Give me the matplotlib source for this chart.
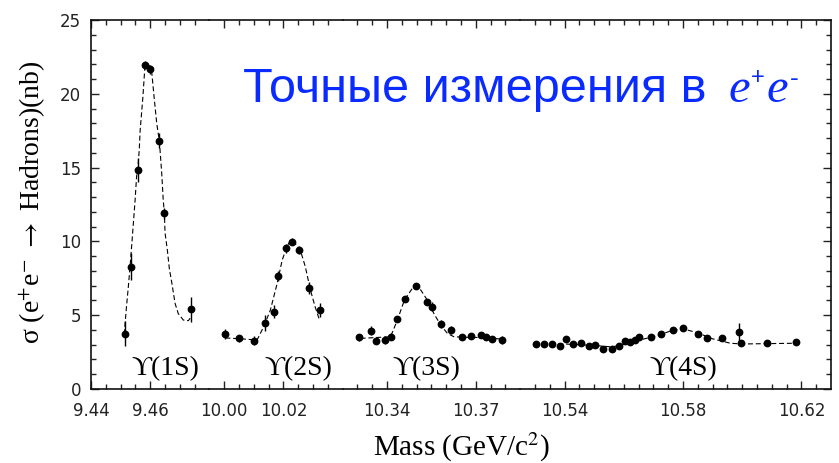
import numpy as np
import matplotlib
matplotlib.use("Agg")
import matplotlib.pyplot as plt
from matplotlib.ticker import FixedLocator, MultipleLocator

plt.rcParams['mathtext.fontset'] = 'stix'
plt.rcParams['font.serif'] = ['Liberation Serif', 'DejaVu Serif']

# ---------------- data ----------------
seg_limits = [(9.44, 9.48), (9.995, 10.04), (10.325, 10.385), (10.525, 10.63)]
major_ticks = [[9.44, 9.46], [10.00, 10.02], [10.34, 10.37], [10.54, 10.58, 10.62]]
peak_labels = ["ϒ(1S)", "ϒ(2S)", "ϒ(3S)", "ϒ(4S)"]
peak_label_mass = [9.465, 10.025, 10.3534, 10.580]

# Upsilon(1S)
m1 = [9.4515, 9.4534, 9.4558, 9.4583, 9.4599, 9.4631, 9.4647, 9.4737]
s1 = [3.73, 8.29, 14.84, 21.95, 21.66, 16.82, 11.90, 5.40]
e1 = [0.85, 0.9, 0.8, 0.3, 0.3, 0.5, 0.35, 0.85]
fit_m1 = [9.4512, 9.4520, 9.4526, 9.4532, 9.4537, 9.4543, 9.4549, 9.4554, 9.4558,
          9.4563, 9.4566, 9.4575, 9.4582, 9.4588, 9.4597, 9.4605, 9.4614, 9.4622,
          9.4631, 9.4639, 9.4644, 9.4648, 9.4650, 9.4658, 9.4665, 9.4673, 9.4684,
          9.4695, 9.4712, 9.4729, 9.4735]
fit_s1 = [3.7, 5.6, 6.9, 8.3, 9.6, 11.2, 12.8, 14.4, 14.9,
          16.2, 17.5, 19.7, 21.8, 22.0, 21.9, 21.5, 19.6, 18.0,
          16.8, 14.6, 12.8, 11.9, 10.6, 9.4, 8.1, 7.2, 5.8,
          5.1, 4.67, 4.63, 4.8]

# Upsilon(2S)
m2 = [10.0004, 10.0051, 10.0100, 10.0137, 10.0167, 10.0181, 10.0210, 10.0229,
      10.0254, 10.0285, 10.0323]
s2 = [3.73, 3.43, 3.28, 4.45, 5.24, 7.66, 9.53, 9.98, 9.42, 6.82, 5.35]
e2 = [0.35, 0.25, 0.3, 0.55, 0.45, 0.35, 0.3, 0.25, 0.3, 0.4, 0.45]
fit_m2 = [10.0004, 10.0055, 10.0111, 10.0133, 10.0156, 10.0179, 10.0196, 10.0212,
          10.0224, 10.0235, 10.0257, 10.0274, 10.0291, 10.0307, 10.0322]
fit_s2 = [3.46, 3.4, 3.32, 4.2, 5.35, 7.16, 8.74, 9.65, 10.09, 9.98, 9.42, 8.29,
          6.73, 5.58, 4.67]

# Upsilon(3S)
m3 = [10.3307, 10.3345, 10.3364, 10.3393, 10.3412, 10.3435, 10.3461, 10.3497,
      10.3536, 10.3553, 10.3584, 10.3617, 10.3655, 10.3685, 10.3716, 10.3733,
      10.3756, 10.3790]
s3 = [3.50, 3.95, 3.27, 3.32, 3.54, 4.74, 6.10, 6.98, 5.91, 5.58, 4.40, 4.00,
      3.50, 3.61, 3.66, 3.54, 3.39, 3.32]
e3 = [0.25, 0.3, 0.25, 0.25, 0.25, 0.2, 0.2, 0.2, 0.2, 0.3, 0.3, 0.3, 0.2, 0.2,
      0.2, 0.2, 0.2, 0.25]
fit_m3 = [10.3311, 10.3412, 10.3435, 10.3459, 10.3491, 10.3514, 10.3536, 10.3558,
          10.3581, 10.3604, 10.3626, 10.3671, 10.3739, 10.3789]
fit_s3 = [3.43, 3.54, 4.67, 6.03, 6.98, 6.71, 6.03, 5.13, 4.34, 3.77, 3.54, 3.50,
          3.48, 3.37]

# Upsilon(4S)
m4 = [10.5304, 10.5332, 10.5357, 10.5385, 10.5405, 10.5430, 10.5455, 10.5481,
      10.5503, 10.5529, 10.5560, 10.5585, 10.5605, 10.5622, 10.5639, 10.5650,
      10.5692, 10.5726, 10.5766, 10.5800, 10.5850, 10.5880, 10.5933, 10.5990,
      10.5995, 10.6085, 10.6181]
s4 = [3.03, 3.03, 3.05, 2.93, 3.37, 3.05, 3.14, 2.91, 2.98, 2.69, 2.71, 2.91,
      3.27, 3.20, 3.32, 3.54, 3.54, 3.73, 4.00, 4.11, 3.73, 3.43, 3.43, 3.88,
      3.10, 3.10, 3.20]
e4 = [0.12, 0.12, 0.12, 0.12, 0.2, 0.15, 0.12, 0.12, 0.15, 0.2, 0.2, 0.15,
      0.15, 0.15, 0.15, 0.2, 0.2, 0.2, 0.15, 0.15, 0.15, 0.15, 0.15, 0.6,
      0.15, 0.15, 0.15]
fit_m4 = [10.5300, 10.5400, 10.5500, 10.5560, 10.5620, 10.5660, 10.5720, 10.5760,
          10.5800, 10.5850, 10.5900, 10.5960, 10.6000, 10.6180]
fit_s4 = [3.0, 3.05, 2.95, 2.85, 3.1, 3.35, 3.65, 3.95, 4.08, 3.8, 3.4, 3.1,
          3.05, 3.1]

seg_m = [m1, m2, m3, m4]
seg_s = [s1, s2, s3, s4]
seg_e = [e1, e2, e3, e4]
seg_fm = [fit_m1, fit_m2, fit_m3, fit_m4]
seg_fs = [fit_s1, fit_s2, fit_s3, fit_s4]

# ---------------- figure ----------------
W, H = 839, 463
fig = plt.figure(figsize=(W / 100, H / 100), dpi=100)
widths = [hi - lo for lo, hi in seg_limits]
gs = fig.add_gridspec(1, 4, width_ratios=widths, wspace=0,
                      left=91 / W, right=831 / W, bottom=74 / H, top=443 / H)

tick_font = dict(family='DejaVu Sans', size=12)
for i, (lo, hi) in enumerate(seg_limits):
    ax = fig.add_subplot(gs[0, i])
    ax.errorbar(seg_m[i], seg_s[i], yerr=seg_e[i], fmt='o', ms=4.6,
                color='black', ecolor='black', elinewidth=1.0, capsize=0, zorder=3)
    ax.plot(seg_fm[i], seg_fs[i], color='black', lw=0.8,
            ls=(0, (4.5, 2.5)), zorder=2)
    ax.text(peak_label_mass[i], 0.95, peak_labels[i], ha='center', va='baseline',
            family=['Liberation Serif', 'DejaVu Serif'], fontsize=20)
    ax.set_xlim(lo, hi)
    ax.set_ylim(0, 25)
    ax.xaxis.set_major_locator(FixedLocator(major_ticks[i]))
    minor = [t for t in np.arange(lo, hi + 1e-9, 0.005)
             if abs(t - lo) > 1e-6 and abs(t - hi) > 1e-6
             and all(abs(t - mt) > 1e-6 for mt in major_ticks[i])]
    ax.xaxis.set_minor_locator(FixedLocator(minor))
    ax.set_xticklabels(["%.2f" % t for t in major_ticks[i]], **tick_font, color='#222222')
    ax.yaxis.set_major_locator(MultipleLocator(5))
    ax.yaxis.set_minor_locator(MultipleLocator(1))
    ax.tick_params(axis='x', which='both', direction='in', top=True, bottom=True,
                   pad=9, width=1.0, color='#222222')
    ax.tick_params(axis='x', which='major', length=6)
    ax.tick_params(axis='x', which='minor', length=3.5)
    ax.tick_params(axis='y', which='both', direction='in', left=(i == 0),
                   right=(i == 3), labelleft=(i == 0), labelright=False,
                   pad=7, width=1.0, color='#222222')
    ax.tick_params(axis='y', which='major', length=6)
    ax.tick_params(axis='y', which='minor', length=3.5)
    if i == 0:
        for lab in ax.get_yticklabels():
            lab.set_fontfamily('DejaVu Sans')
            lab.set_fontsize(12)
            lab.set_color('#222222')
    for side in ['top', 'bottom', 'left', 'right']:
        ax.spines[side].set_linewidth(1.2)
        ax.spines[side].set_color('#111111')
    ax.spines['left'].set_visible(i == 0)
    ax.spines['right'].set_visible(i == 3)
    ax.patch.set_alpha(0)

fig.text(461 / W, (H - 456) / H, r'Mass (GeV/c$^{2}$)', ha='center', va='baseline',
         family='serif', fontsize=21)
fig.text(33 / W, (H - 202) / H, r'σ (e$^{+}$e$^{-}$ $\rightarrow$ Hadrons)(nb)',
         rotation=90, ha='center', va='center', family='serif', fontsize=20)

title_color = '#0a2bff'
base_y = (H - 102) / H
fig.text(243 / W, base_y, 'Точные измерения в', ha='left', va='baseline',
         family='Liberation Sans', fontsize=35, color=title_color)
fig.text(729 / W, base_y, 'e', ha='left', va='baseline', family='Liberation Serif',
         style='italic', fontsize=35, color=title_color)
fig.text(751 / W, (H - 84) / H, '+', ha='left', va='baseline', family='Liberation Sans',
         fontsize=17, color=title_color)
fig.text(767 / W, base_y, 'e', ha='left', va='baseline', family='Liberation Serif',
         style='italic', fontsize=35, color=title_color)
fig.text(790 / W, (H - 86) / H, '-', ha='left', va='baseline', family='Liberation Sans',
         fontsize=19, color=title_color)

fig.savefig('out.png', dpi=100)
